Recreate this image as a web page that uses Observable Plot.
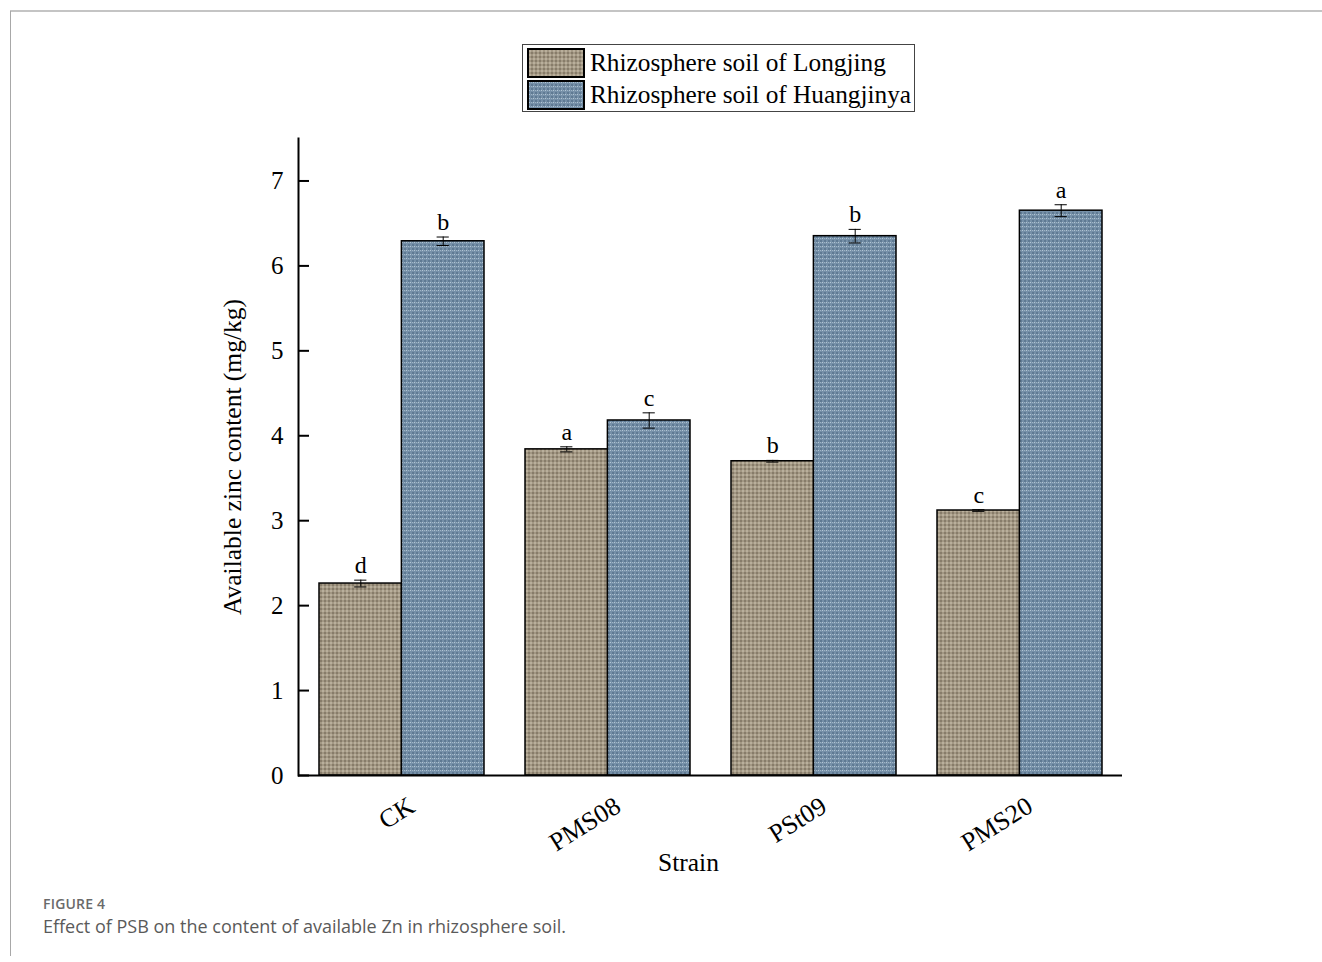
<!DOCTYPE html>
<html>
<head>
<meta charset="utf-8">
<script src="https://cdn.jsdelivr.net/npm/d3@7"></script>
<script src="https://cdn.jsdelivr.net/npm/@observablehq/plot@0.6"></script>
<style>
  body { margin: 0; background: #fff; width: 1322px; height: 962px; position: relative; overflow: hidden; }
  #frameTop { position: absolute; left: 10px; top: 10px; width: 1312px; height: 2px; background: #c4c4c4; }
  #frameLeft { position: absolute; left: 10px; top: 11px; width: 1px; height: 945px; background: #a8a8a8; }
  #chart { position: absolute; left: 0; top: 0; }
  #legend { position: absolute; left: 522px; top: 44px; width: 391px; height: 66px; border: 1px solid #444;
            font-family: "Liberation Serif", "Times New Roman", serif; font-size: 25.3px; color: #000; }
  #legend .row { position: absolute; left: 4px; height: 31px; display: flex; align-items: center; }
  #legend .row svg { margin-right: 5px; }
  #caption { position: absolute; left: 43px; top: 894px; font-family: "Open Sans", sans-serif; color: #5a5a5a; }
  #caption .fig { font-size: 14px; font-weight: 600; letter-spacing: 0.2px; color: #6a6a6a; }
  #caption .txt { font-size: 18px; margin-top: 1px; }
</style>
</head>
<body>
<svg width="0" height="0" style="position:absolute">
  <defs>
    <pattern id="patLongjing" width="4" height="4" patternUnits="userSpaceOnUse">
      <rect width="4" height="4" fill="#a39884"/>
      <rect x="0" y="0" width="2" height="2" fill="#877c6a"/>
      <rect x="2" y="2" width="2" height="2" fill="#b9af9c"/>
    </pattern>
    <pattern id="patHuangjinya" width="4" height="4" patternUnits="userSpaceOnUse">
      <rect width="4" height="4" fill="#7690a8"/>
      <rect x="0" y="0" width="2" height="2" fill="#5f7a93"/>
      <rect x="2" y="2" width="1" height="1" fill="#b3c6d4"/>
      <rect x="0" y="2" width="1" height="1" fill="#9db3c4"/>
    </pattern>
  </defs>
</svg>
<div id="frameTop"></div>
<div id="frameLeft"></div>
<div id="chart"></div>
<div id="legend">
  <div class="row" style="top:2px">
    <svg width="58" height="30"><rect x="1" y="1" width="56" height="28" fill="url(#patLongjing)" stroke="#000" stroke-width="2"/></svg>
    <span id="lgLJ"></span>
  </div>
  <div class="row" style="top:34px">
    <svg width="58" height="30"><rect x="1" y="1" width="56" height="28" fill="url(#patHuangjinya)" stroke="#000" stroke-width="2"/></svg>
    <span id="lgHJ"></span>
  </div>
</div>
<div id="caption">
  <div class="fig">FIGURE 4</div>
  <div class="txt">Effect of PSB on the content of available Zn in rhizosphere soil.</div>
</div>
<script>
// Available zinc (mg/kg) per strain, mean ± error, with significance letters
const strains = ["CK", "PMS08", "PSt09", "PMS20"];
const soils = ["Rhizosphere soil of Longjing", "Rhizosphere soil of Huangjinya"];
const longjing = [2.26, 3.84, 3.70, 3.12];
const longjingErr = [0.04, 0.03, 0.01, 0.01];
const longjingLetters = ["d", "a", "b", "c"];
const huangjinya = [6.29, 4.18, 6.35, 6.65];
const huangjinyaErr = [0.05, 0.09, 0.08, 0.07];
const huangjinyaLetters = ["b", "c", "b", "a"];
const yTicks = [0, 1, 2, 3, 4, 5, 6, 7];
const yLabel = "Available zinc content (mg/kg)";
const xLabel = "Strain";

document.getElementById("lgLJ").textContent = soils[0];
document.getElementById("lgHJ").textContent = soils[1];

const ljRows = strains.map((s, i) => ({strain: s, value: longjing[i], err: longjingErr[i], letter: longjingLetters[i]}));
const hjRows = strains.map((s, i) => ({strain: s, value: huangjinya[i], err: huangjinyaErr[i], letter: huangjinyaLetters[i]}));

// Layout of the band scale, used to split each band into two side-by-side bars
const W = 1322, H = 890;
const mL = 298, mR = 200, mT = 138, mB = 115;
const pInner = 0.2, pOuter = 0.1;
const step = (W - mL - mR) / (strains.length - pInner + 2 * pOuter);
const bw = step * (1 - pInner);
const half = bw / 2, quarter = bw / 4, cap = 6;

const serif = "'Liberation Serif', 'Times New Roman', serif";

const chart = Plot.plot({
  width: W,
  height: H,
  marginLeft: mL,
  marginRight: mR,
  marginTop: mT,
  marginBottom: mB,
  style: {fontFamily: serif, fontSize: "25px", color: "#000", background: "transparent"},
  x: {domain: strains, type: "band", paddingInner: pInner, paddingOuter: pOuter, align: 0.5},
  y: {domain: [0, 7.5]},
  marks: [
    // bars
    Plot.barY(ljRows, {x: "strain", y: "value", insetRight: half, fill: "url(#patLongjing)", stroke: "#000", strokeWidth: 1.5}),
    Plot.barY(hjRows, {x: "strain", y: "value", insetLeft: half, fill: "url(#patHuangjinya)", stroke: "#000", strokeWidth: 1.5}),
    // error bars
    Plot.ruleX(ljRows, {x: "strain", y1: d => d.value - d.err, y2: d => d.value + d.err, dx: -quarter, stroke: "#000", strokeWidth: 1}),
    Plot.tickY(ljRows, {x: "strain", y: d => d.value + d.err, insetLeft: quarter - cap, insetRight: 3 * quarter - cap, stroke: "#000", strokeWidth: 1}),
    Plot.tickY(ljRows, {x: "strain", y: d => d.value - d.err, insetLeft: quarter - cap, insetRight: 3 * quarter - cap, stroke: "#000", strokeWidth: 1}),
    Plot.ruleX(hjRows, {x: "strain", y1: d => d.value - d.err, y2: d => d.value + d.err, dx: quarter, stroke: "#000", strokeWidth: 1}),
    Plot.tickY(hjRows, {x: "strain", y: d => d.value + d.err, insetLeft: 3 * quarter - cap, insetRight: quarter - cap, stroke: "#000", strokeWidth: 1}),
    Plot.tickY(hjRows, {x: "strain", y: d => d.value - d.err, insetLeft: 3 * quarter - cap, insetRight: quarter - cap, stroke: "#000", strokeWidth: 1}),
    // significance letters
    Plot.text(ljRows, {x: "strain", y: d => d.value + d.err, text: "letter", dx: -quarter, dy: -7, lineAnchor: "bottom", fontSize: 24, fill: "#000"}),
    Plot.text(hjRows, {x: "strain", y: d => d.value + d.err, text: "letter", dx: quarter, dy: -7, lineAnchor: "bottom", fontSize: 24, fill: "#000"}),
    // axes
    Plot.axisY({ticks: yTicks, tickSize: -11, tickPadding: 26, label: null, strokeWidth: 2, fontSize: 25}),
    Plot.axisX({tickSize: 0, tickRotate: -32, tickPadding: 28, dx: 10, label: null, fontSize: 26}),
    Plot.ruleY([0], {stroke: "#000", strokeWidth: 2}),
    Plot.frame({anchor: "left", stroke: "#000", strokeWidth: 2}),
    // axis titles
    Plot.text([yLabel], {frameAnchor: "left", textAnchor: "middle", dx: -66, rotate: -90, fontSize: 25.5, fill: "#000"}),
    Plot.text([xLabel], {frameAnchor: "bottom", dx: -22, dy: 95, fontSize: 25.5, fill: "#000"})
  ]
});
document.getElementById("chart").appendChild(chart);
</script>
</body>
</html>
